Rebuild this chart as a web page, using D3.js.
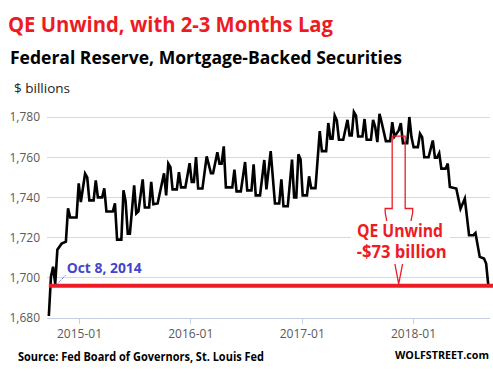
<!DOCTYPE html>
<html><head><meta charset="utf-8">
<script src="https://cdn.jsdelivr.net/npm/d3@7"></script>
<style>body{margin:0;background:#fff}svg{display:block}</style>
</head><body><svg id="c" width="493" height="374"></svg>
<script>
// ---- data (weekly Wednesday levels, $ billions) ----
const dates = [
"2014-09-24","2014-10-01","2014-10-08","2014-10-15","2014-10-22","2014-11-05","2014-11-19","2014-11-26","2014-12-03","2014-12-24",
"2014-12-31","2015-01-07","2015-01-21","2015-01-28","2015-02-04","2015-02-18","2015-02-25","2015-03-04","2015-03-18","2015-03-25",
"2015-04-01","2015-04-22","2015-04-29","2015-05-06","2015-05-20","2015-05-27","2015-06-03","2015-06-10","2015-06-17","2015-07-01",
"2015-07-08","2015-07-15","2015-07-29","2015-08-05","2015-08-19","2015-08-26","2015-09-02","2015-09-16","2015-10-07","2015-10-14",
"2015-10-21","2015-10-28","2015-11-04","2015-11-18","2015-11-25","2015-12-02","2015-12-16","2015-12-30","2016-01-06","2016-01-13",
"2016-01-20","2016-01-27","2016-02-10","2016-02-24","2016-03-09","2016-03-16","2016-03-30","2016-04-06","2016-04-13","2016-04-20",
"2016-04-27","2016-05-18","2016-05-25","2016-06-01","2016-06-15","2016-06-29","2016-07-06","2016-07-20","2016-07-27","2016-08-03",
"2016-08-17","2016-08-31","2016-09-07","2016-09-21","2016-10-05","2016-10-19","2016-10-26","2016-11-02","2016-11-16","2016-11-30",
"2016-12-07","2016-12-14","2016-12-21","2016-12-28","2017-01-04","2017-01-18","2017-01-25","2017-02-01","2017-02-15","2017-03-01",
"2017-03-08","2017-03-22","2017-03-29","2017-04-05","2017-04-12","2017-04-19","2017-04-26","2017-05-03","2017-05-17","2017-05-31",
"2017-06-07","2017-06-14","2017-06-21","2017-06-28","2017-07-05","2017-07-19","2017-07-26","2017-08-02","2017-08-16","2017-08-23",
"2017-08-30","2017-09-06","2017-09-13","2017-09-20","2017-10-04","2017-10-18","2017-10-25","2017-11-01","2017-11-15","2017-11-22",
"2017-11-29","2017-12-13","2017-12-20","2017-12-27","2018-01-03","2018-01-17","2018-01-24","2018-01-31","2018-02-07","2018-02-21",
"2018-03-07","2018-03-14","2018-03-21","2018-03-28","2018-04-04","2018-04-18","2018-04-25","2018-05-02","2018-05-23","2018-06-06",
"2018-06-20","2018-07-04","2018-07-18","2018-07-25","2018-08-08","2018-08-22","2018-08-29","2018-09-05"];
const values = [
1681,1700.5,1705.5,1697,1714,1717,1718,1734.6,1730,1730,
1747,1737.7,1751.8,1750,1738.5,1738.5,1748.5,1740,1740,1744.5,
1733,1733,1737,1719,1719,1743.5,1738,1722,1722,1746,
1732,1733,1749,1735,1735,1747.7,1736.6,1737,1752,1741,
1756.8,1755,1744,1744,1752.6,1745,1745,1757,1747.7,1747.7,
1760,1744.4,1744.4,1760.4,1752,1752,1762.5,1756.8,1756.8,1765.4,
1745,1745,1753.8,1743,1743,1757.6,1743.5,1743.5,1756.4,1741,
1741,1758.6,1744,1763,1737,1737,1749,1735.6,1735.6,1758.8,
1740,1740,1761.4,1759,1741,1741,1750.5,1744.6,1744.6,1773,
1763,1763,1777,1769.2,1769.2,1780.7,1778.3,1768.7,1768.7,1778.6,
1770.8,1770.8,1782.5,1780.7,1770.3,1770.3,1779,1768.7,1768.7,1778.6,
1775,1767.5,1781.6,1777.4,1768,1768,1777.4,1770.3,1773.3,1777,
1767,1767,1780,1770,1765,1765,1771.7,1770,1760,1760,
1768.3,1759.8,1759.8,1762,1754.3,1754.3,1756.8,1745.2,1744.4,1734.4,
1739.4,1721.2,1721.2,1722.3,1710.4,1709.6,1707.1,1696.5];
const yTicks = [1680,1700,1720,1740,1760,1780];
const xTickLabels = ["2015-01","2016-01","2017-01","2018-01"];
const baselineLevel = 1696;          // Oct 8, 2014 level
const baselineLabel = "Oct 8, 2014";
const unwindStartDate = "2017-11-15"; // arrow position
const unwindTopLevel = 1770.5;
const unwindLines = ["QE Unwind","-$73 billion"];

// ---- layout ----
const svg = d3.select("#c");
const parse = d3.utcParse("%Y-%m-%d");
const parseYM = d3.utcParse("%Y-%m");
const plotL = 47, plotR = 490;
const x = d3.scaleUtc().domain([parseYM("2015-01"), parseYM("2018-01")]).range([79, 413]);
const y = d3.scaleLinear().domain([1680, 1780]).range([318, 117]);
const data = dates.map((d,i)=>({date:parse(d), v:values[i]}));
const RED = "#ed1c24";
const fontF = "'Open Sans', 'Noto Sans', sans-serif";

function txt(t, xx, yy, size, weight, fill, len, anchor){
  const e = svg.append("text").attr("x",xx).attr("y",yy).text(t)
    .attr("font-family",fontF).attr("font-size",size).attr("font-weight",weight).attr("fill",fill);
  if(len) e.attr("textLength",len).attr("lengthAdjust","spacingAndGlyphs");
  if(anchor) e.attr("text-anchor",anchor);
  return e;
}
txt("QE Unwind, with 2-3 Months Lag", 8, 31.5, 21, 700, RED, 325);
txt("Federal Reserve, Mortgage-Backed Securities", 10, 63.5, 18.5, 700, "#000", 392);
txt("$ billions", 14, 92.5, 13, 400, "#222", 56);

// gridlines
svg.append("g").selectAll("line").data(yTicks.filter(t=>t>1680)).join("line")
  .attr("x1",plotL).attr("x2",plotR).attr("y1",d=>y(d)).attr("y2",d=>y(d))
  .attr("stroke","#d9d9d9").attr("stroke-width",1).attr("shape-rendering","crispEdges");

// y axis labels
const yAxis = d3.axisLeft(y).tickValues(yTicks).tickFormat(d3.format(",")).tickSize(0).tickPadding(0);
const gy = svg.append("g").attr("transform","translate(40,0)").call(yAxis);
gy.select(".domain").remove();
gy.selectAll("text").attr("font-family",fontF).attr("font-size",12).attr("fill","#595959");

// x axis
const xAxis = d3.axisBottom(x).tickValues(xTickLabels.map(parseYM)).tickFormat(d3.utcFormat("%Y-%m")).tickSize(6).tickSizeOuter(0).tickPadding(5);
const gx = svg.append("g").attr("transform","translate(0,"+y(1680)+")").call(xAxis);
gx.select(".domain").attr("d","M"+plotL+",0.5H"+plotR).attr("stroke","#c5cfe0").attr("shape-rendering","crispEdges");
gx.selectAll(".tick line").attr("stroke","#c5cfe0").attr("shape-rendering","crispEdges");
gx.selectAll("text").attr("font-family",fontF).attr("font-size",12).attr("fill","#595959");

// data line
svg.append("path").datum(data)
  .attr("d", d3.line().x(d=>x(d.date)).y(d=>y(d.v)))
  .attr("fill","none").attr("stroke","#000").attr("stroke-width",2.6).attr("stroke-linejoin","miter");

// baseline red line
svg.append("line").attr("x1",x(data[0].date)).attr("x2",493)
  .attr("y1",y(baselineLevel)).attr("y2",y(baselineLevel))
  .attr("stroke",RED).attr("stroke-width",4);

// Oct 8 label with dotted leader
const ly = y(baselineLevel);
svg.append("line").attr("x1",56.5).attr("y1",ly-1).attr("x2",66).attr("y2",ly-11)
  .attr("stroke","#4a4ad0").attr("stroke-width",1).attr("stroke-dasharray","1,1");
txt(baselineLabel, 66.7, 273.3, 14, 700, "#4444cc", 75);

// QE unwind arrow
const cx = x(parse(unwindStartDate));
const yT = y(unwindTopLevel), yS = 208.5, yTip = y(baselineLevel) - 2;
const arrow = [[cx-6.5,yT],[cx+6.5,yT],[cx+6.5,yS],[cx+14,yS],[cx+14,yS+4],[cx,yTip],[cx-13.5,yS+4],[cx-13.5,yS],[cx-6.5,yS]];
svg.append("path").attr("d", d3.line()(arrow)+"Z").attr("fill","none").attr("stroke",RED).attr("stroke-width",1.3);

// text box
svg.append("rect").attr("x",351).attr("y",221).attr("width",99).attr("height",43).attr("fill","#fff");
txt(unwindLines[0], 400, 236.7, 18, 700, RED, 86, "middle");
txt(unwindLines[1], 401.7, 258.3, 18, 700, RED, 90, "middle");

// footer
txt("Source: Fed Board of Governors, St. Louis Fed", 18, 360.7, 12.5, 700, "#000", 246);
txt("WOLFSTREET.com", 489, 359.3, 11, 700, "#000", 94, "end");
</script></body></html>
